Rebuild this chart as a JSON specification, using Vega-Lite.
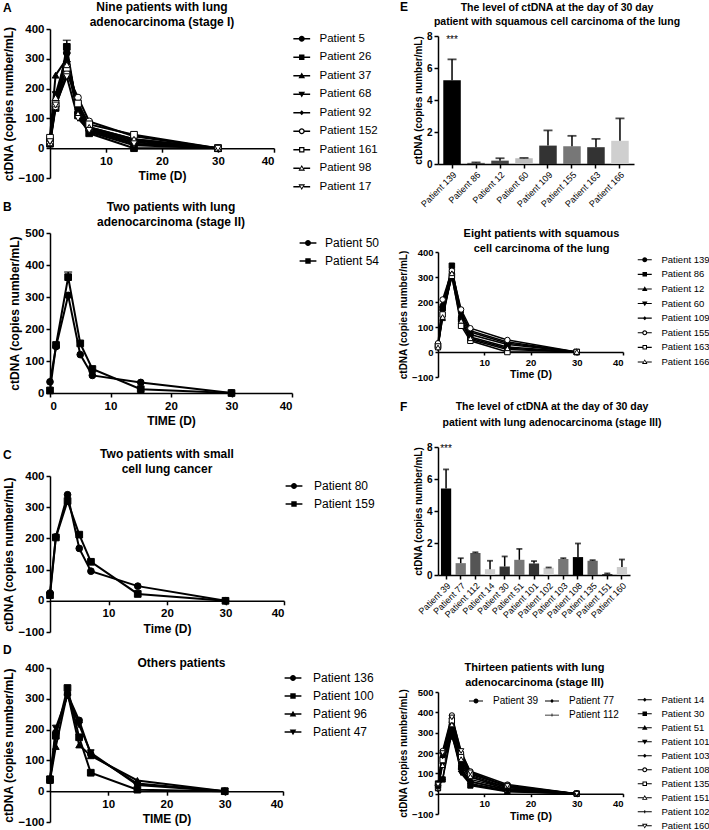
{
"$schema": "https://vega.github.io/schema/vega-lite/v6.json",
"padding": {"left": 2, "top": 0, "right": 0, "bottom": 0},
"background": "white",
"config": {
 "font": "Liberation Sans",
 "view": {"stroke": null},
 "axis": {"grid": false, "domainColor": "black", "tickColor": "black", "labelColor": "black", "titleColor": "black", "labelFontWeight": "bold", "titleFontWeight": "bold", "domainWidth": 1.5, "tickWidth": 1.5, "tickSize": 4, "labelFont": "Liberation Sans", "titleFont": "Liberation Sans"},
 "legend": {"labelFont": "Liberation Sans", "labelColor": "black", "title": null, "symbolOpacity": 1, "symbolFillColor": "black", "symbolStrokeWidth": 0},
 "title": {"fontWeight": "bold", "color": "black", "font": "Liberation Sans"}
},
"resolve": {"scale": {"shape": "independent", "fill": "independent", "color": "independent"}},
"spacing": 14,
"hconcat": [
 {"bounds": "flush", "spacing": 0,
  "resolve": {"scale": {"shape": "independent", "fill": "independent", "color": "independent"}},
  "vconcat": [
  {"width": 10, "height": 29, "data": {"values": []}, "mark": {"type": "point", "opacity": 0}, "encoding": {},
   "title": {"text": "A", "anchor": "start", "frame": "group", "baseline": "middle", "offset": -20, "dx": -47, "fontSize": 12}},
  {
    "width": 224, "height": 149,
    "title": {"text": ["Nine patients with lung", "adenocarcinoma (stage I)"], "fontSize": 12, "frame": "group", "offset": -6, "lineHeight": 15},
    "data": {"values": [
     {"p":"Patient 5","t":0,"v":20},{"p":"Patient 5","t":1,"v":150},{"p":"Patient 5","t":3,"v":320},{"p":"Patient 5","t":5,"v":120},{"p":"Patient 5","t":7,"v":60},{"p":"Patient 5","t":15,"v":20},{"p":"Patient 5","t":30,"v":0},
     {"p":"Patient 26","t":0,"v":15},{"p":"Patient 26","t":1,"v":135},{"p":"Patient 26","t":3,"v":340,"e":1},{"p":"Patient 26","t":3,"v":362,"e":1,"s":"sd"},{"p":"Patient 26","t":5,"v":110},{"p":"Patient 26","t":7,"v":50},{"p":"Patient 26","t":15,"v":0},{"p":"Patient 26","t":30,"v":0},
     {"p":"Patient 37","t":0,"v":40},{"p":"Patient 37","t":1,"v":245},{"p":"Patient 37","t":3,"v":300},{"p":"Patient 37","t":5,"v":140},{"p":"Patient 37","t":7,"v":70},{"p":"Patient 37","t":15,"v":30},{"p":"Patient 37","t":30,"v":0},
     {"p":"Patient 68","t":0,"v":25},{"p":"Patient 68","t":1,"v":180},{"p":"Patient 68","t":3,"v":310},{"p":"Patient 68","t":5,"v":130},{"p":"Patient 68","t":7,"v":55},{"p":"Patient 68","t":15,"v":10},{"p":"Patient 68","t":30,"v":0},
     {"p":"Patient 92","t":0,"v":30},{"p":"Patient 92","t":1,"v":160},{"p":"Patient 92","t":3,"v":290},{"p":"Patient 92","t":5,"v":125},{"p":"Patient 92","t":7,"v":65},{"p":"Patient 92","t":15,"v":25},{"p":"Patient 92","t":30,"v":0},
     {"p":"Patient 152","t":0,"v":20},{"p":"Patient 152","t":1,"v":140},{"p":"Patient 152","t":3,"v":250},{"p":"Patient 152","t":5,"v":170},{"p":"Patient 152","t":7,"v":90},{"p":"Patient 152","t":15,"v":40},{"p":"Patient 152","t":30,"v":0},
     {"p":"Patient 161","t":0,"v":35},{"p":"Patient 161","t":1,"v":150},{"p":"Patient 161","t":3,"v":270},{"p":"Patient 161","t":5,"v":150},{"p":"Patient 161","t":7,"v":80},{"p":"Patient 161","t":15,"v":45},{"p":"Patient 161","t":30,"v":0},
     {"p":"Patient 98","t":0,"v":18},{"p":"Patient 98","t":1,"v":170},{"p":"Patient 98","t":3,"v":280},{"p":"Patient 98","t":5,"v":115},{"p":"Patient 98","t":7,"v":70},{"p":"Patient 98","t":15,"v":30},{"p":"Patient 98","t":30,"v":0},
     {"p":"Patient 17","t":0,"v":22},{"p":"Patient 17","t":1,"v":145},{"p":"Patient 17","t":3,"v":240},{"p":"Patient 17","t":5,"v":100},{"p":"Patient 17","t":7,"v":60},{"p":"Patient 17","t":15,"v":15},{"p":"Patient 17","t":30,"v":0}
    ]},
    "encoding": {
     "x": {"field": "t", "type": "quantitative", "scale": {"domain": [0, 40], "nice": false}, "axis": {"values": [10,20,30,40], "offset": -29.8, "title": "Time (D)", "labelFontSize": 11.5, "titleFontSize": 12, "labelPadding": 3, "titlePadding": 4}},
     "y": {"field": "v", "type": "quantitative", "scale": {"domain": [-100, 400], "nice": false}, "axis": {"values": [-100,0,100,200,300,400], "title": "ctDNA (copies number/mL)", "labelFontSize": 11.5, "titleFontSize": 12, "titlePadding": 3}}
    },
    "resolve": {"scale": {"shape": "independent", "fill": "independent"}},
    "layer": [
     {"transform": [{"filter": "datum.s != 'sd'"}], "mark": {"type": "line", "color": "black", "strokeWidth": 2}, "encoding": {"detail": {"field": "p"}}},
     {"transform": [{"filter": "datum.e == 1"}], "mark": {"type": "line", "color": "black", "strokeWidth": 1.5}, "encoding": {"detail": {"field": "p"}}},
     {"transform": [{"filter": "datum.s == 'sd'"}], "mark": {"type": "tick", "orient": "horizontal", "color": "black", "size": 8, "thickness": 1.5}},
     {"transform": [{"filter": "datum.s != 'sd'"}], "mark": {"type": "point", "filled": true, "size": 45, "stroke": "black", "strokeWidth": 1, "opacity": 1},
      "encoding": {
       "shape": {"field": "p", "type": "nominal", "scale": {"domain": ["Patient 5","Patient 26","Patient 37","Patient 68","Patient 92","Patient 152","Patient 161","Patient 98","Patient 17"], "range": ["circle","square","triangle-up","triangle-down","diamond","circle","square","triangle-up","triangle-down"]}, "legend": null},
       "fill": {"field": "p", "type": "nominal", "scale": {"domain": ["Patient 5","Patient 26","Patient 37","Patient 68","Patient 92","Patient 152","Patient 161","Patient 98","Patient 17"], "range": ["black","black","black","black","black","white","white","white","white"]}, "legend": null}
      }},
     {"transform": [{"filter": "datum.s != 'sd'"}], "mark": {"type": "point", "filled": true, "size": 36, "color": "black", "opacity": 0},
      "encoding": {
       "shape": {"field": "p", "type": "nominal", "scale": {"domain": ["Patient 5","Patient 26","Patient 37","Patient 68","Patient 92","Patient 152","Patient 161","Patient 98","Patient 17"], "range": [
        "M-2.8,-0.22H2.8V0.22H-2.8ZM1,0A1,1,0,1,1,-1,0A1,1,0,1,1,1,0Z",
        "M-2.8,-0.22H2.8V0.22H-2.8ZM-0.9,-0.9H0.9V0.9H-0.9Z",
        "M-2.8,-0.22H2.8V0.22H-2.8ZM0,-1.1L1.1,0.8H-1.1Z",
        "M-2.8,-0.22H2.8V0.22H-2.8ZM0,1.1L-1.1,-0.8H1.1Z",
        "M-2.8,-0.22H2.8V0.22H-2.8ZM0,-0.8L0.8,0L0,0.8L-0.8,0Z",
        "M-2.8,-0.22H-0.95V0.22H-2.8ZM0.95,-0.22H2.8V0.22H0.95ZM1,0A1,1,0,1,1,-1,0A1,1,0,1,1,1,0ZM0.55,0A0.55,0.55,0,1,0,-0.55,0A0.55,0.55,0,1,0,0.55,0Z",
        "M-2.8,-0.22H-0.9V0.22H-2.8ZM0.9,-0.22H2.8V0.22H0.9ZM-0.9,-0.9H0.9V0.9H-0.9ZM-0.5,-0.5V0.5H0.5V-0.5Z",
        "M-2.8,-0.22H-0.64V0.22H-2.8ZM0.64,-0.22H2.8V0.22H0.64ZM0,-1.1L1.1,0.8H-1.1ZM0,-0.45L-0.55,0.45H0.55Z",
        "M-2.8,-0.22H-0.64V0.22H-2.8ZM0.64,-0.22H2.8V0.22H0.64ZM0,1.1L-1.1,-0.8H1.1ZM0,0.45L0.55,-0.45H-0.55Z"]},
        "legend": {"offset": 18, "padding": 4, "labelFontSize": 11.5, "labelOffset": 12, "symbolSize": 36, "rowPadding": 5.5}}
      }}
    ]
  },
  {"width": 10, "height": 55, "data": {"values": []}, "mark": {"type": "point", "opacity": 0}, "encoding": {},
   "title": {"text": "B", "anchor": "start", "frame": "group", "baseline": "middle", "offset": -41, "dx": -47, "fontSize": 12}},
  {
    "width": 242, "height": 160,
    "title": {"text": ["Two patients with lung", "adenocarcinoma (stage II)"], "fontSize": 12, "frame": "group", "offset": -2, "lineHeight": 15},
    "data": {"values": [
     {"p":"Patient 50","t":0,"v":35},{"p":"Patient 50","t":1,"v":145},{"p":"Patient 50","t":3,"v":305},{"p":"Patient 50","t":5,"v":120},{"p":"Patient 50","t":7,"v":55},{"p":"Patient 50","t":15,"v":33},{"p":"Patient 50","t":30,"v":0},
     {"p":"Patient 54","t":0,"v":8},{"p":"Patient 54","t":1,"v":150},{"p":"Patient 54","t":3,"v":362,"e":1},{"p":"Patient 54","t":3,"v":378,"e":1,"s":"sd"},{"p":"Patient 54","t":5,"v":155},{"p":"Patient 54","t":7,"v":75},{"p":"Patient 54","t":15,"v":12},{"p":"Patient 54","t":30,"v":0}
    ]},
    "encoding": {
     "x": {"field": "t", "type": "quantitative", "scale": {"domain": [0, 40], "nice": false}, "axis": {"values": [0,10,20,30,40], "title": "TIME (D)", "labelFontSize": 11.5, "titleFontSize": 12, "labelPadding": 3, "titlePadding": 4}},
     "y": {"field": "v", "type": "quantitative", "scale": {"domain": [0, 500], "nice": false}, "axis": {"values": [0,100,200,300,400,500], "title": "ctDNA (copies number/mL)", "labelFontSize": 11.5, "titleFontSize": 12, "titlePadding": 3}}
    },
    "resolve": {"scale": {"shape": "independent"}},
    "layer": [
     {"transform": [{"filter": "datum.s != 'sd'"}], "mark": {"type": "line", "color": "black", "strokeWidth": 2}, "encoding": {"detail": {"field": "p"}}},
     {"transform": [{"filter": "datum.e == 1"}], "mark": {"type": "line", "color": "black", "strokeWidth": 1.5}, "encoding": {"detail": {"field": "p"}}},
     {"transform": [{"filter": "datum.s == 'sd'"}], "mark": {"type": "tick", "orient": "horizontal", "color": "black", "size": 8, "thickness": 1.5}},
     {"transform": [{"filter": "datum.s != 'sd'"}], "mark": {"type": "point", "filled": true, "size": 45, "stroke": "black", "strokeWidth": 1, "opacity": 1, "color": "black"},
      "encoding": {"shape": {"field": "p", "type": "nominal", "scale": {"domain": ["Patient 50","Patient 54"], "range": ["circle","square"]}, "legend": null}}},
     {"transform": [{"filter": "datum.s != 'sd'"}], "mark": {"type": "point", "filled": true, "size": 36, "opacity": 0, "color": "black"},
      "encoding": {"shape": {"field": "p", "type": "nominal", "scale": {"domain": ["Patient 50","Patient 54"], "range": ["M-2.8,-0.22H2.8V0.22H-2.8ZM1,0A1,1,0,1,1,-1,0A1,1,0,1,1,1,0Z","M-2.8,-0.22H2.8V0.22H-2.8ZM-0.9,-0.9H0.9V0.9H-0.9Z"]},
        "legend": {"offset": 6, "padding": 4, "labelFontSize": 12, "labelOffset": 11, "symbolSize": 36, "rowPadding": 6}}}}
    ]
  },
  {"width": 10, "height": 83, "data": {"values": []}, "mark": {"type": "point", "opacity": 0}, "encoding": {},
   "title": {"text": "C", "anchor": "start", "frame": "group", "baseline": "middle", "offset": -74, "dx": -47, "fontSize": 12}},
  {
    "width": 234, "height": 156,
    "title": {"text": ["Two patients with small", "cell lung cancer"], "fontSize": 12, "frame": "group", "offset": -6, "lineHeight": 15},
    "data": {"values": [
     {"p":"Patient 80","t":0,"v":25},{"p":"Patient 80","t":1,"v":205},{"p":"Patient 80","t":3,"v":340},{"p":"Patient 80","t":5,"v":168},{"p":"Patient 80","t":7,"v":95},{"p":"Patient 80","t":15,"v":47},{"p":"Patient 80","t":30,"v":0},
     {"p":"Patient 159","t":0,"v":18},{"p":"Patient 159","t":1,"v":203},{"p":"Patient 159","t":3,"v":320},{"p":"Patient 159","t":5,"v":212},{"p":"Patient 159","t":7,"v":125},{"p":"Patient 159","t":15,"v":22},{"p":"Patient 159","t":30,"v":0}
    ]},
    "encoding": {
     "x": {"field": "t", "type": "quantitative", "scale": {"domain": [0, 40], "nice": false}, "axis": {"values": [10,20,30,40], "offset": -31.2, "title": "Time (D)", "labelFontSize": 11.5, "titleFontSize": 12, "labelPadding": 3, "titlePadding": 4}},
     "y": {"field": "v", "type": "quantitative", "scale": {"domain": [-100, 400], "nice": false}, "axis": {"values": [-100,0,100,200,300,400], "title": "ctDNA (copies number/mL)", "labelFontSize": 11.5, "titleFontSize": 12, "titlePadding": 3}}
    },
    "resolve": {"scale": {"shape": "independent"}},
    "layer": [
     {"mark": {"type": "line", "color": "black", "strokeWidth": 2}, "encoding": {"detail": {"field": "p"}}},
     {"mark": {"type": "point", "filled": true, "size": 45, "stroke": "black", "strokeWidth": 1, "opacity": 1, "color": "black"},
      "encoding": {"shape": {"field": "p", "type": "nominal", "scale": {"domain": ["Patient 80","Patient 159"], "range": ["circle","square"]}, "legend": null}}},
     {"mark": {"type": "point", "filled": true, "size": 36, "opacity": 0, "color": "black"},
      "encoding": {"shape": {"field": "p", "type": "nominal", "scale": {"domain": ["Patient 80","Patient 159"], "range": ["M-2.8,-0.22H2.8V0.22H-2.8ZM1,0A1,1,0,1,1,-1,0A1,1,0,1,1,1,0Z","M-2.8,-0.22H2.8V0.22H-2.8ZM-0.9,-0.9H0.9V0.9H-0.9Z"]},
        "legend": {"offset": 0, "padding": 4, "labelFontSize": 12, "labelOffset": 14, "symbolSize": 36, "rowPadding": 6}}}}
    ]
  },
  {"width": 10, "height": 36, "data": {"values": []}, "mark": {"type": "point", "opacity": 0}, "encoding": {},
   "title": {"text": "D", "anchor": "start", "frame": "group", "baseline": "middle", "offset": -30, "dx": -47, "fontSize": 12}},
  {
    "width": 233, "height": 154,
    "title": {"text": "Others patients", "fontSize": 12, "frame": "group", "offset": -8, "dx": 15},
    "data": {"values": [
     {"p":"Patient 136","t":0,"v":35},{"p":"Patient 136","t":1,"v":190},{"p":"Patient 136","t":3,"v":315},{"p":"Patient 136","t":5,"v":230},{"p":"Patient 136","t":7,"v":120},{"p":"Patient 136","t":15,"v":25},{"p":"Patient 136","t":30,"v":0},
     {"p":"Patient 100","t":0,"v":38},{"p":"Patient 100","t":1,"v":180},{"p":"Patient 100","t":3,"v":335},{"p":"Patient 100","t":5,"v":175},{"p":"Patient 100","t":7,"v":60},{"p":"Patient 100","t":15,"v":5},{"p":"Patient 100","t":30,"v":0},
     {"p":"Patient 96","t":0,"v":35},{"p":"Patient 96","t":1,"v":145},{"p":"Patient 96","t":3,"v":320},{"p":"Patient 96","t":5,"v":150},{"p":"Patient 96","t":7,"v":115},{"p":"Patient 96","t":15,"v":35},{"p":"Patient 96","t":30,"v":0},
     {"p":"Patient 47","t":0,"v":40},{"p":"Patient 47","t":1,"v":205},{"p":"Patient 47","t":3,"v":310},{"p":"Patient 47","t":5,"v":215},{"p":"Patient 47","t":7,"v":125},{"p":"Patient 47","t":15,"v":20},{"p":"Patient 47","t":30,"v":0}
    ]},
    "encoding": {
     "x": {"field": "t", "type": "quantitative", "scale": {"domain": [0, 40], "nice": false}, "axis": {"values": [10,20,30,40], "offset": -30.8, "title": "TIME (D)", "labelFontSize": 11.5, "titleFontSize": 12, "labelPadding": 3, "titlePadding": 4}},
     "y": {"field": "v", "type": "quantitative", "scale": {"domain": [-100, 400], "nice": false}, "axis": {"values": [-100,0,100,200,300,400], "title": "ctDNA (copies number/mL)", "labelFontSize": 11.5, "titleFontSize": 12, "titlePadding": 3}}
    },
    "resolve": {"scale": {"shape": "independent"}},
    "layer": [
     {"mark": {"type": "line", "color": "black", "strokeWidth": 2}, "encoding": {"detail": {"field": "p"}}},
     {"mark": {"type": "point", "filled": true, "size": 45, "stroke": "black", "strokeWidth": 1, "opacity": 1, "color": "black"},
      "encoding": {"shape": {"field": "p", "type": "nominal", "scale": {"domain": ["Patient 136","Patient 100","Patient 96","Patient 47"], "range": ["circle","square","triangle-up","triangle-down"]}, "legend": null}}},
     {"mark": {"type": "point", "filled": true, "size": 36, "opacity": 0, "color": "black"},
      "encoding": {"shape": {"field": "p", "type": "nominal", "scale": {"domain": ["Patient 136","Patient 100","Patient 96","Patient 47"], "range": ["M-2.8,-0.22H2.8V0.22H-2.8ZM1,0A1,1,0,1,1,-1,0A1,1,0,1,1,1,0Z","M-2.8,-0.22H2.8V0.22H-2.8ZM-0.9,-0.9H0.9V0.9H-0.9Z","M-2.8,-0.22H2.8V0.22H-2.8ZM0,-1.1L1.1,0.8H-1.1Z","M-2.8,-0.22H2.8V0.22H-2.8ZM0,1.1L-1.1,-0.8H1.1Z"]},
        "legend": {"offset": 0, "padding": 4, "labelFontSize": 12, "labelOffset": 14, "symbolSize": 36, "rowPadding": 6}}}}
    ]
  }
 ]},
 {"bounds": "flush", "spacing": 0,
  "resolve": {"scale": {"shape": "independent", "fill": "independent", "color": "independent"}},
  "vconcat": [
  {"width": 10, "height": 36, "data": {"values": []}, "mark": {"type": "point", "opacity": 0}, "encoding": {},
   "title": {"text": "E", "anchor": "start", "frame": "group", "baseline": "middle", "offset": -19, "dx": -38, "fontSize": 12}},
  {
    "width": 196, "height": 128,
    "title": {"text": ["The level of ctDNA at the day of 30 day", "patient with  squamous cell carcinoma of the lung"], "fontSize": 10.5, "frame": "group", "offset": 4, "dx": 21, "lineHeight": 14},
    "data": {"values": [
     {"p":"Patient 139","s":"mean","v":5.24},{"p":"Patient 139","s":"sd","v":6.54},
     {"p":"Patient 86","s":"mean","v":0.07},{"p":"Patient 86","s":"sd","v":0.1},
     {"p":"Patient 12","s":"mean","v":0.21},{"p":"Patient 12","s":"sd","v":0.36},
     {"p":"Patient 60","s":"mean","v":0.36},{"p":"Patient 60","s":"sd","v":0.38},
     {"p":"Patient 109","s":"mean","v":1.15},{"p":"Patient 109","s":"sd","v":2.1},
     {"p":"Patient 155","s":"mean","v":1.11},{"p":"Patient 155","s":"sd","v":1.76},
     {"p":"Patient 163","s":"mean","v":1.05},{"p":"Patient 163","s":"sd","v":1.57},
     {"p":"Patient 166","s":"mean","v":1.45},{"p":"Patient 166","s":"sd","v":2.85}
    ]},
    "encoding": {
     "x": {"field": "p", "type": "nominal", "sort": null, "scale": {"paddingInner": 0.27, "paddingOuter": 0.22}, "axis": {"title": null, "labelAngle": -45, "labelFontSize": 9, "labelFontWeight": "normal", "labelPadding": 2}},
     "y": {"field": "v", "type": "quantitative", "scale": {"domain": [0, 8], "nice": false}, "axis": {"values": [0,2,4,6,8], "title": "ctDNA (copies number/mL)", "labelFontSize": 10, "titleFontSize": 10, "titlePadding": 3}}
    },
    "layer": [
     {"transform": [{"filter": "datum.s == 'mean'"}], "mark": {"type": "bar"}, "encoding": {
      "color": {"field": "p", "type": "nominal", "scale": {"domain": ["Patient 139","Patient 86","Patient 12","Patient 60","Patient 109","Patient 155","Patient 163","Patient 166"], "range": ["#000000","#555555","#444444","#bdbdbd","#333333","#777777","#333333","#cfcfcf"]}, "legend": null}}},
     {"mark": {"type": "line", "color": "black", "strokeWidth": 1.5}, "encoding": {"detail": {"field": "p"}}},
     {"transform": [{"filter": "datum.s == 'sd'"}], "mark": {"type": "tick", "color": "black", "size": 9, "thickness": 1.8, "orient": "horizontal"}},
     {"transform": [{"filter": "datum.p == 'Patient 139' && datum.s == 'sd'"}], "mark": {"type": "text", "fontSize": 10, "color": "black", "baseline": "middle", "dy": -19}, "encoding": {"text": {"value": "***"}}}
    ]
  },
  {"width": 10, "height": 88, "data": {"values": []}, "mark": {"type": "point", "opacity": 0}, "encoding": {}},
  {
   "width": 185, "height": 125,
   "title": {"text": ["Eight patients with squamous", "cell carcinoma of the lung"], "fontSize": 11, "frame": "group", "offset": -7, "dx": 11, "lineHeight": 15},
   "data": {"values": [
    {"p":"Patient 139","t":0,"v":20},{"p":"Patient 139","t":1,"v":180},{"p":"Patient 139","t":3,"v":320},{"p":"Patient 139","t":5,"v":140},{"p":"Patient 139","t":7,"v":70},{"p":"Patient 139","t":15,"v":30},{"p":"Patient 139","t":30,"v":0},
    {"p":"Patient 86","t":0,"v":25},{"p":"Patient 86","t":1,"v":175},{"p":"Patient 86","t":3,"v":345},{"p":"Patient 86","t":5,"v":130},{"p":"Patient 86","t":7,"v":60},{"p":"Patient 86","t":15,"v":20},{"p":"Patient 86","t":30,"v":0},
    {"p":"Patient 12","t":0,"v":30},{"p":"Patient 12","t":1,"v":135},{"p":"Patient 12","t":3,"v":310},{"p":"Patient 12","t":5,"v":150},{"p":"Patient 12","t":7,"v":80},{"p":"Patient 12","t":15,"v":35},{"p":"Patient 12","t":30,"v":0},
    {"p":"Patient 60","t":0,"v":15},{"p":"Patient 60","t":1,"v":160},{"p":"Patient 60","t":3,"v":300},{"p":"Patient 60","t":5,"v":120},{"p":"Patient 60","t":7,"v":50},{"p":"Patient 60","t":15,"v":10},{"p":"Patient 60","t":30,"v":0},
    {"p":"Patient 109","t":0,"v":28},{"p":"Patient 109","t":1,"v":190},{"p":"Patient 109","t":3,"v":330},{"p":"Patient 109","t":5,"v":160},{"p":"Patient 109","t":7,"v":85},{"p":"Patient 109","t":15,"v":40},{"p":"Patient 109","t":30,"v":0},
    {"p":"Patient 155","t":0,"v":35},{"p":"Patient 155","t":1,"v":210},{"p":"Patient 155","t":3,"v":325},{"p":"Patient 155","t":5,"v":170},{"p":"Patient 155","t":7,"v":95},{"p":"Patient 155","t":15,"v":48},{"p":"Patient 155","t":30,"v":0},
    {"p":"Patient 163","t":0,"v":22},{"p":"Patient 163","t":1,"v":150},{"p":"Patient 163","t":3,"v":305},{"p":"Patient 163","t":5,"v":105},{"p":"Patient 163","t":7,"v":45},{"p":"Patient 163","t":15,"v":0},{"p":"Patient 163","t":30,"v":0},
    {"p":"Patient 166","t":0,"v":18},{"p":"Patient 166","t":1,"v":140},{"p":"Patient 166","t":3,"v":315},{"p":"Patient 166","t":5,"v":125},{"p":"Patient 166","t":7,"v":55},{"p":"Patient 166","t":15,"v":15},{"p":"Patient 166","t":30,"v":0}
   ]},
   "encoding": {
    "x": {"field": "t", "type": "quantitative", "scale": {"domain": [0, 40], "nice": false}, "axis": {"values": [10,20,30,40], "offset": -25, "title": "Time (D)", "labelFontSize": 9.5, "titleFontSize": 10.5, "labelPadding": 2, "titlePadding": 3, "tickSize": 3}},
    "y": {"field": "v", "type": "quantitative", "scale": {"domain": [-100, 400], "nice": false}, "axis": {"values": [-100,0,100,200,300,400], "title": "ctDNA (copies number/mL)", "labelFontSize": 9.5, "titleFontSize": 10, "titlePadding": 3, "tickSize": 3}}
   },
   "resolve": {"scale": {"shape": "independent", "fill": "independent"}},
   "layer": [
    {"mark": {"type": "line", "color": "black", "strokeWidth": 1.5}, "encoding": {"detail": {"field": "p"}}},
    {"mark": {"type": "point", "filled": true, "size": 30, "stroke": "black", "strokeWidth": 1, "opacity": 1},
     "encoding": {
      "shape": {"field": "p", "type": "nominal", "scale": {"domain": ["Patient 139","Patient 86","Patient 12","Patient 60","Patient 109","Patient 155","Patient 163","Patient 166"], "range": ["circle","square","triangle-up","triangle-down","diamond","circle","square","triangle-up"]}, "legend": null},
      "fill": {"field": "p", "type": "nominal", "scale": {"domain": ["Patient 139","Patient 86","Patient 12","Patient 60","Patient 109","Patient 155","Patient 163","Patient 166"], "range": ["black","black","black","black","black","white","white","white"]}, "legend": null}
     }},
    {"mark": {"type": "point", "filled": true, "size": 25, "color": "black", "opacity": 0},
     "encoding": {
      "shape": {"field": "p", "type": "nominal", "scale": {"domain": ["Patient 139","Patient 86","Patient 12","Patient 60","Patient 109","Patient 155","Patient 163","Patient 166"], "range": [
        "M-2.8,-0.22H2.8V0.22H-2.8ZM1,0A1,1,0,1,1,-1,0A1,1,0,1,1,1,0Z",
        "M-2.8,-0.22H2.8V0.22H-2.8ZM-0.9,-0.9H0.9V0.9H-0.9Z",
        "M-2.8,-0.22H2.8V0.22H-2.8ZM0,-1.1L1.1,0.8H-1.1Z",
        "M-2.8,-0.22H2.8V0.22H-2.8ZM0,1.1L-1.1,-0.8H1.1Z",
        "M-2.8,-0.22H2.8V0.22H-2.8ZM0,-0.8L0.8,0L0,0.8L-0.8,0Z",
        "M-2.8,-0.22H-0.95V0.22H-2.8ZM0.95,-0.22H2.8V0.22H0.95ZM1,0A1,1,0,1,1,-1,0A1,1,0,1,1,1,0ZM0.55,0A0.55,0.55,0,1,0,-0.55,0A0.55,0.55,0,1,0,0.55,0Z",
        "M-2.8,-0.22H-0.9V0.22H-2.8ZM0.9,-0.22H2.8V0.22H0.9ZM-0.9,-0.9H0.9V0.9H-0.9ZM-0.5,-0.5V0.5H0.5V-0.5Z",
        "M-2.8,-0.22H-0.64V0.22H-2.8ZM0.64,-0.22H2.8V0.22H0.64ZM0,-1.1L1.1,0.8H-1.1ZM0,-0.45L-0.55,0.45H0.55Z"]},
       "legend": {"offset": 14, "padding": 3, "labelFontSize": 9.5, "labelOffset": 12, "symbolSize": 25, "rowPadding": 3.6}}
     }}
   ]
  },
  {"width": 10, "height": 70, "data": {"values": []}, "mark": {"type": "point", "opacity": 0}, "encoding": {},
   "title": {"text": "F", "anchor": "start", "frame": "group", "baseline": "middle", "offset": -42, "dx": -38, "fontSize": 12}},
  {
    "width": 192, "height": 128,
    "title": {"text": ["The level of ctDNA at the day of 30 day", "patient with  lung adenocarcinoma (stage III)"], "fontSize": 10.5, "frame": "group", "offset": 14, "dx": 18, "lineHeight": 16},
    "data": {"values": [
     {"p":"Patient 39","s":"mean","v":5.4},{"p":"Patient 39","s":"sd","v":6.6},
     {"p":"Patient 77","s":"mean","v":0.74},{"p":"Patient 77","s":"sd","v":1.05},
     {"p":"Patient 112","s":"mean","v":1.38},{"p":"Patient 112","s":"sd","v":1.42},
     {"p":"Patient 14","s":"mean","v":0.36},{"p":"Patient 14","s":"sd","v":0.89},
     {"p":"Patient 30","s":"mean","v":0.53},{"p":"Patient 30","s":"sd","v":1.16},
     {"p":"Patient 51","s":"mean","v":0.95},{"p":"Patient 51","s":"sd","v":1.63},
     {"p":"Patient 101","s":"mean","v":0.72},{"p":"Patient 101","s":"sd","v":0.87},
     {"p":"Patient 102","s":"mean","v":0.45},{"p":"Patient 102","s":"sd","v":0.47},
     {"p":"Patient 103","s":"mean","v":1.0},{"p":"Patient 103","s":"sd","v":1.05},
     {"p":"Patient 108","s":"mean","v":1.12},{"p":"Patient 108","s":"sd","v":1.97},
     {"p":"Patient 135","s":"mean","v":0.89},{"p":"Patient 135","s":"sd","v":0.93},
     {"p":"Patient 151","s":"mean","v":0.06},{"p":"Patient 151","s":"sd","v":0.1},
     {"p":"Patient 160","s":"mean","v":0.5},{"p":"Patient 160","s":"sd","v":0.97}
    ]},
    "encoding": {
     "x": {"field": "p", "type": "nominal", "sort": null, "scale": {"paddingInner": 0.3, "paddingOuter": 0.2}, "axis": {"title": null, "labelAngle": -45, "labelFontSize": 9, "labelFontWeight": "normal", "labelPadding": 2}},
     "y": {"field": "v", "type": "quantitative", "scale": {"domain": [0, 8], "nice": false}, "axis": {"values": [0,2,4,6,8], "title": "ctDNA (copies number/mL)", "labelFontSize": 10, "titleFontSize": 10, "titlePadding": 3}}
    },
    "layer": [
     {"transform": [{"filter": "datum.s == 'mean'"}], "mark": {"type": "bar"}, "encoding": {
      "color": {"field": "p", "type": "nominal", "scale": {"domain": ["Patient 39","Patient 77","Patient 112","Patient 14","Patient 30","Patient 51","Patient 101","Patient 102","Patient 103","Patient 108","Patient 135","Patient 151","Patient 160"], "range": ["#000000","#777777","#555555","#cccccc","#333333","#777777","#333333","#cccccc","#777777","#000000","#666666","#333333","#cccccc"]}, "legend": null}}},
     {"mark": {"type": "line", "color": "black", "strokeWidth": 1.5}, "encoding": {"detail": {"field": "p"}}},
     {"transform": [{"filter": "datum.s == 'sd'"}], "mark": {"type": "tick", "color": "black", "size": 6, "thickness": 1.8, "orient": "horizontal"}},
     {"transform": [{"filter": "datum.p == 'Patient 39' && datum.s == 'sd'"}], "mark": {"type": "text", "fontSize": 10, "color": "black", "baseline": "middle", "dy": -20}, "encoding": {"text": {"value": "***"}}}
    ]
  },
  {"width": 10, "height": 117, "data": {"values": []}, "mark": {"type": "point", "opacity": 0}, "encoding": {}},
  {
   "width": 185, "height": 122,
   "title": {"text": ["Thirteen patients with lung", "adenocarcinoma (stage III)"], "fontSize": 11, "frame": "group", "offset": -1, "dx": 4, "lineHeight": 15},
   "data": {"values": [
    {"p":"Patient 39","t":0,"v":40},{"p":"Patient 39","t":1,"v":180},{"p":"Patient 39","t":3,"v":370},{"p":"Patient 39","t":5,"v":190},{"p":"Patient 39","t":7,"v":100},{"p":"Patient 39","t":15,"v":35},{"p":"Patient 39","t":30,"v":0},
    {"p":"Patient 77","t":0,"v":30},{"p":"Patient 77","t":1,"v":70},{"p":"Patient 77","t":3,"v":300},{"p":"Patient 77","t":5,"v":120},{"p":"Patient 77","t":7,"v":60},{"p":"Patient 77","t":15,"v":20},{"p":"Patient 77","t":30,"v":0},
    {"p":"Patient 112","t":0,"v":45},{"p":"Patient 112","t":1,"v":200},{"p":"Patient 112","t":3,"v":350},{"p":"Patient 112","t":5,"v":160},{"p":"Patient 112","t":7,"v":90},{"p":"Patient 112","t":15,"v":30},{"p":"Patient 112","t":30,"v":0},
    {"p":"Patient 14","t":0,"v":35},{"p":"Patient 14","t":1,"v":150},{"p":"Patient 14","t":3,"v":290},{"p":"Patient 14","t":5,"v":110},{"p":"Patient 14","t":7,"v":50},{"p":"Patient 14","t":15,"v":15},{"p":"Patient 14","t":30,"v":0},
    {"p":"Patient 30","t":0,"v":50},{"p":"Patient 30","t":1,"v":70},{"p":"Patient 30","t":3,"v":330},{"p":"Patient 30","t":5,"v":130},{"p":"Patient 30","t":7,"v":40},{"p":"Patient 30","t":15,"v":10},{"p":"Patient 30","t":30,"v":0},
    {"p":"Patient 51","t":0,"v":25},{"p":"Patient 51","t":1,"v":160},{"p":"Patient 51","t":3,"v":310},{"p":"Patient 51","t":5,"v":140},{"p":"Patient 51","t":7,"v":70},{"p":"Patient 51","t":15,"v":25},{"p":"Patient 51","t":30,"v":0},
    {"p":"Patient 101","t":0,"v":20},{"p":"Patient 101","t":1,"v":190},{"p":"Patient 101","t":3,"v":320},{"p":"Patient 101","t":5,"v":100},{"p":"Patient 101","t":7,"v":45},{"p":"Patient 101","t":15,"v":12},{"p":"Patient 101","t":30,"v":0},
    {"p":"Patient 103","t":0,"v":38},{"p":"Patient 103","t":1,"v":175},{"p":"Patient 103","t":3,"v":280},{"p":"Patient 103","t":5,"v":150},{"p":"Patient 103","t":7,"v":80},{"p":"Patient 103","t":15,"v":30},{"p":"Patient 103","t":30,"v":0},
    {"p":"Patient 108","t":0,"v":42},{"p":"Patient 108","t":1,"v":210},{"p":"Patient 108","t":3,"v":385},{"p":"Patient 108","t":5,"v":200},{"p":"Patient 108","t":7,"v":110},{"p":"Patient 108","t":15,"v":45},{"p":"Patient 108","t":30,"v":0},
    {"p":"Patient 135","t":0,"v":30},{"p":"Patient 135","t":1,"v":165},{"p":"Patient 135","t":3,"v":360},{"p":"Patient 135","t":5,"v":180},{"p":"Patient 135","t":7,"v":95},{"p":"Patient 135","t":15,"v":40},{"p":"Patient 135","t":30,"v":0},
    {"p":"Patient 151","t":0,"v":28},{"p":"Patient 151","t":1,"v":140},{"p":"Patient 151","t":3,"v":340},{"p":"Patient 151","t":5,"v":170},{"p":"Patient 151","t":7,"v":85},{"p":"Patient 151","t":15,"v":20},{"p":"Patient 151","t":30,"v":0},
    {"p":"Patient 102","t":0,"v":33},{"p":"Patient 102","t":1,"v":185},{"p":"Patient 102","t":3,"v":300},{"p":"Patient 102","t":5,"v":125},{"p":"Patient 102","t":7,"v":60},{"p":"Patient 102","t":15,"v":18},{"p":"Patient 102","t":30,"v":0},
    {"p":"Patient 160","t":0,"v":45},{"p":"Patient 160","t":1,"v":200},{"p":"Patient 160","t":3,"v":375},{"p":"Patient 160","t":5,"v":210},{"p":"Patient 160","t":7,"v":105},{"p":"Patient 160","t":15,"v":38},{"p":"Patient 160","t":30,"v":0}
   ]},
   "encoding": {
    "x": {"field": "t", "type": "quantitative", "scale": {"domain": [0, 40], "nice": false}, "axis": {"values": [10,20,30,40], "offset": -20.3, "title": "Time (D)", "labelFontSize": 9.5, "titleFontSize": 10.5, "labelPadding": 2, "titlePadding": 3, "tickSize": 3}},
    "y": {"field": "v", "type": "quantitative", "scale": {"domain": [-100, 500], "nice": false}, "axis": {"values": [-100,0,100,200,300,400,500], "title": "ctDNA (copies number/mL)", "labelFontSize": 9.5, "titleFontSize": 10, "titlePadding": 3, "tickSize": 3}}
   },
   "resolve": {"scale": {"shape": "independent", "fill": "independent"}},
   "layer": [
    {"mark": {"type": "line", "color": "black", "strokeWidth": 1.5}, "encoding": {"detail": {"field": "p"}}},
    {"mark": {"type": "point", "filled": true, "size": 28, "stroke": "black", "strokeWidth": 1, "opacity": 1},
     "encoding": {
      "shape": {"field": "p", "type": "nominal", "scale": {"domain": ["Patient 14","Patient 30","Patient 51","Patient 101","Patient 103","Patient 108","Patient 135","Patient 151","Patient 102","Patient 160","Patient 39","Patient 77","Patient 112"], "range": ["diamond","square","triangle-up","triangle-down","diamond","circle","square","triangle-up","diamond","triangle-down","circle","diamond","cross"]}, "legend": null},
      "fill": {"field": "p", "type": "nominal", "scale": {"domain": ["Patient 14","Patient 30","Patient 51","Patient 101","Patient 103","Patient 108","Patient 135","Patient 151","Patient 102","Patient 160","Patient 39","Patient 77","Patient 112"], "range": ["black","black","black","black","black","white","white","white","black","white","black","black","black"]}, "legend": null}
     }},
    {"transform": [{"filter": "indexof(['Patient 39','Patient 77','Patient 112'], datum.p) < 0"}],
     "mark": {"type": "point", "filled": true, "size": 25, "color": "black", "opacity": 0},
     "encoding": {
      "shape": {"field": "p", "type": "nominal", "scale": {"domain": ["Patient 14","Patient 30","Patient 51","Patient 101","Patient 103","Patient 108","Patient 135","Patient 151","Patient 102","Patient 160"], "range": [
        "M-2.8,-0.22H2.8V0.22H-2.8ZM0,-0.8L0.8,0L0,0.8L-0.8,0Z",
        "M-2.8,-0.22H2.8V0.22H-2.8ZM-0.9,-0.9H0.9V0.9H-0.9Z",
        "M-2.8,-0.22H2.8V0.22H-2.8ZM0,-1.1L1.1,0.8H-1.1Z",
        "M-2.8,-0.22H2.8V0.22H-2.8ZM0,1.1L-1.1,-0.8H1.1Z",
        "M-2.8,-0.22H2.8V0.22H-2.8ZM0,-0.8L0.8,0L0,0.8L-0.8,0Z",
        "M-2.8,-0.22H-0.95V0.22H-2.8ZM0.95,-0.22H2.8V0.22H0.95ZM1,0A1,1,0,1,1,-1,0A1,1,0,1,1,1,0ZM0.55,0A0.55,0.55,0,1,0,-0.55,0A0.55,0.55,0,1,0,0.55,0Z",
        "M-2.8,-0.22H-0.9V0.22H-2.8ZM0.9,-0.22H2.8V0.22H0.9ZM-0.9,-0.9H0.9V0.9H-0.9ZM-0.5,-0.5V0.5H0.5V-0.5Z",
        "M-2.8,-0.22H-0.64V0.22H-2.8ZM0.64,-0.22H2.8V0.22H0.64ZM0,-1.1L1.1,0.8H-1.1ZM0,-0.45L-0.55,0.45H0.55Z",
        "M-2.8,-0.22H2.8V0.22H-2.8ZM-0.2,-0.6H0.2V0.6H-0.2Z",
        "M-2.8,-0.22H-0.64V0.22H-2.8ZM0.64,-0.22H2.8V0.22H0.64ZM0,1.1L-1.1,-0.8H1.1ZM0,0.45L0.55,-0.45H-0.55Z"]},
       "legend": {"offset": 14, "padding": 3, "labelFontSize": 9.5, "labelOffset": 12, "symbolSize": 25, "rowPadding": 3.0}}
     }},
    {"transform": [{"filter": "indexof(['Patient 39','Patient 77','Patient 112'], datum.p) >= 0"}],
     "mark": {"type": "point", "filled": true, "size": 25, "opacity": 0, "color": "black"},
     "encoding": {
      "shape": {"field": "p", "type": "nominal", "scale": {"domain": ["Patient 39"," ","Patient 77","Patient 112"], "range": ["M-2.8,-0.22H2.8V0.22H-2.8ZM1,0A1,1,0,1,1,-1,0A1,1,0,1,1,1,0Z","M0,0","M-2.8,-0.22H2.8V0.22H-2.8ZM0,-0.8L0.8,0L0,0.8L-0.8,0Z","M-2.8,-0.15H2.8V0.15H-2.8ZM-0.15,-0.6H0.15V0.6H-0.15Z"]},
       "legend": {"orient": "top-right", "offset": 2, "columns": 2, "columnPadding": 6, "padding": 2, "labelFontSize": 10, "labelOffset": 12, "symbolSize": 25, "rowPadding": 4}}
     }}
   ]
  }
 ]}
]
}
